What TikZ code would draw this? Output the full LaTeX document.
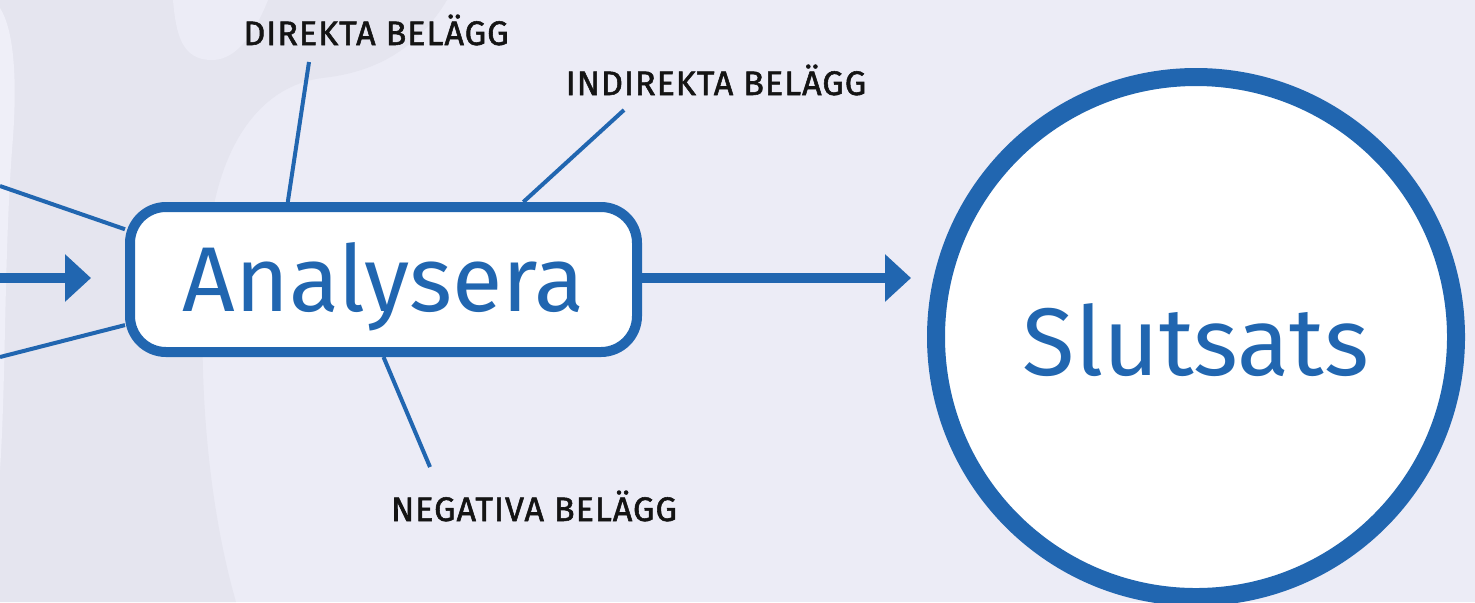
\documentclass[tikz,border=0pt]{standalone}
\usepackage{fontspec}
\setmainfont{Fira Sans}
\usetikzlibrary{arrows.meta}

\definecolor{bgmain}{HTML}{ECECF6}
\definecolor{bgdark}{HTML}{E5E5EF}
\definecolor{bglight}{HTML}{EFEFF8}
\definecolor{blau}{HTML}{2166B0}

\tikzset{
  stage/.style={draw=blau, fill=white, text=blau, line width=5pt, rounded corners=18pt,
    minimum width=253.5pt, minimum height=72.5pt, text height=32pt, text depth=0pt,
    font=\fontsize{46}{50}\selectfont},
  goal/.style={circle, draw=blau, fill=white, text=blau, line width=9pt, minimum size=260pt,
    text height=38pt, text depth=0pt, font=\fontsize{48}{52}\selectfont},
  evidence/.style={text=black!92, font=\fontsize{17}{20}\selectfont\addfontfeature{LetterSpace=3,FakeBold=1.6}},
  flow/.style={-{Triangle[length=13pt,width=23pt]}, draw=blau, line width=5pt},
  branch/.style={draw=blau, line width=2pt},
}

\begin{document}
\begin{tikzpicture}[x=0.5pt,y=-0.5pt]
% background
\fill[bgmain] (0,0) rectangle (1475,602);
\useasboundingbox (0,0) rectangle (1475,602);
\fill[bgdark] (0,0) -- (447,0) .. controls (420,45) and (380,72) .. (322,78)
  .. controls (262,86) and (225,140) .. (212,215)
  .. controls (196,300) and (198,470) .. (236,602) -- (0,602) -- cycle;
\fill[bgmain] (173,0) .. controls (176,35) and (182,60) .. (212,60)
  .. controls (238,60) and (256,30) .. (268,0) -- cycle;
\fill[bglight] (0,8) .. controls (14,30) and (18,80) .. (12,150)
  .. controls (4,260) and (6,380) .. (0,470) -- cycle;

% nodes
\node[stage] (analys) at (383.5,279.5) {Analysera};
\node[goal] (slutsats) at (1196,337) {Slutsats};
\node[evidence] (direkta) at (376,30) {DIREKTA BELÄGG};
\node[evidence] (indirekta) at (716,80) {INDIREKTA BELÄGG};
\node[evidence] (negativa) at (534,506) {NEGATIVA BELÄGG};

\coordinate (src) at (0,278);
\coordinate (upin) at (0,186);
\coordinate (lowin) at (0,357);
\coordinate (dtop) at (309,62);
\coordinate (itop) at (624,110);
\coordinate (nbot) at (430,467);

% connectors
\draw[flow, shorten >=17pt] (src) -- (src -| analys.west);
\draw[flow, shorten >=8pt] (analys.east |- src) -- (src -| slutsats.west);
\draw[branch] (upin) -- (analys.169);
\draw[branch] (lowin) -- (analys.190);
\draw[branch] (analys.141) -- (dtop);
\draw[branch] (analys.29) -- (itop);
\draw[branch] (analys.270) -- (nbot);
\end{tikzpicture}
\end{document}
